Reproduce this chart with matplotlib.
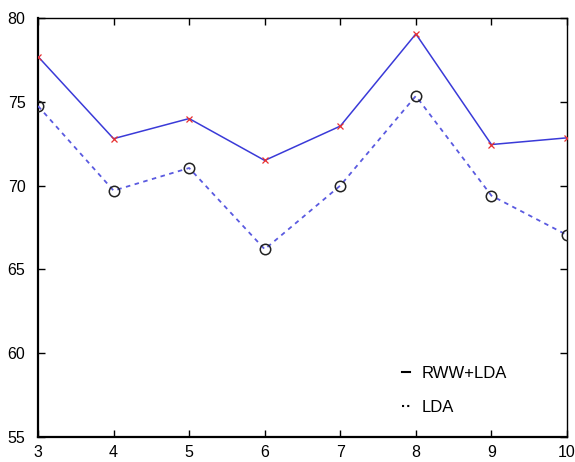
import matplotlib.pyplot as plt
from matplotlib.lines import Line2D

plt.rcParams['font.family'] = ['Liberation Sans', 'DejaVu Sans']

# Data
x_vals = [3, 4, 5, 6, 7, 8, 9, 10]
rww_lda = [77.7, 72.8, 74.0, 71.5, 73.55, 79.05, 72.45, 72.85]
lda = [74.75, 69.7, 71.05, 66.2, 70.0, 75.35, 69.4, 67.05]
y_ticks = [55, 60, 65, 70, 75, 80]

fig = plt.figure(figsize=(5.75, 4.62), dpi=100, facecolor='white')
ax = fig.add_axes([38/575, 25/462, 529/575, 419/462])

ax.plot(x_vals, rww_lda, color='#3a3ad8', linewidth=1.1, zorder=3)
ax.plot(x_vals, rww_lda, linestyle='none', marker='x', color='#e83030',
        markersize=5, markeredgewidth=0.9, zorder=4)
ax.plot(x_vals, lda, color='#5a5ae0', linewidth=1.3,
        linestyle=(0, (2.5, 2.5)), zorder=3)
ax.plot(x_vals, lda, linestyle='none', marker='o', markerfacecolor='none',
        markeredgecolor='#222222', markersize=7.5, markeredgewidth=1.1, zorder=4)

ax.set_xlim(3, 10)
ax.set_ylim(55, 80)
ax.set_xticks(x_vals)
ax.set_yticks(y_ticks)
ax.tick_params(direction='in', length=5, width=1, top=True, right=True,
               labelsize=11.5, colors='black')
ax.tick_params(axis='y', pad=9)
ax.tick_params(axis='x', pad=6)
for side in ['left', 'bottom']:
    ax.spines[side].set_linewidth(1.6)
for side in ['top', 'right']:
    ax.spines[side].set_linewidth(1.0)
for lbl in ax.get_xticklabels():
    lbl.set_clip_on(False)

handles = [Line2D([], [], color='black', linewidth=1.5),
           Line2D([], [], color='black', linewidth=1.5, linestyle=(0, (1, 1.5)))]
ax.legend(handles, ['RWW+LDA', 'LDA'], loc='lower left',
          bbox_to_anchor=(349/529, 0.017), frameon=False, fontsize=12,
          handlelength=0.45, handletextpad=0.7, labelspacing=1.15)

fig.savefig('out.png', dpi=100)
